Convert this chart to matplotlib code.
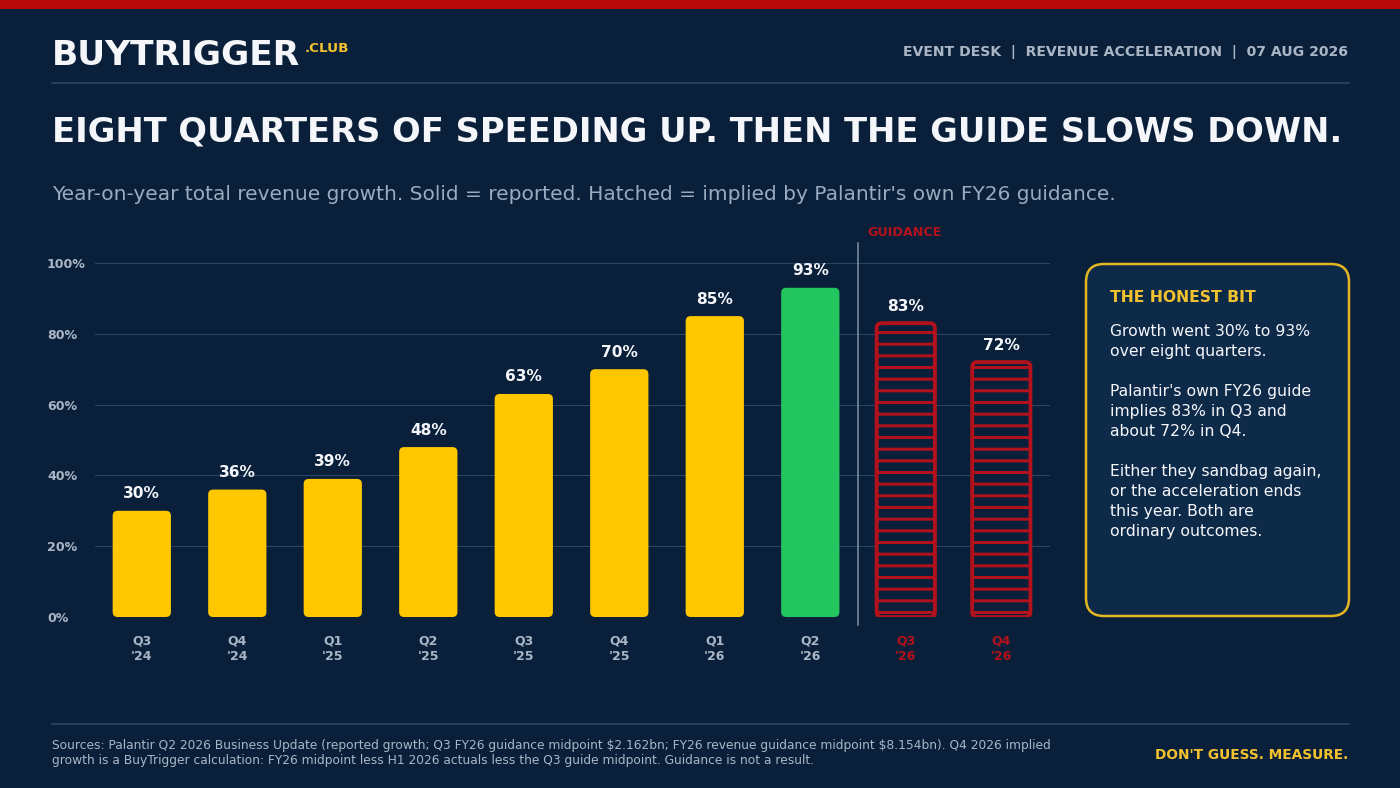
"""
Palantir revenue growth: eight reported quarters plus two quarters
implied by FY26 guidance. Saves out.png (1400x788).
"""

import matplotlib
matplotlib.use("Agg")
import matplotlib.pyplot as plt
from matplotlib.patches import FancyBboxPatch, Rectangle

DPI = 140
W, H = 1400, 788


def pt(px):
    """Convert a size in output pixels to points."""
    return px * 72 / DPI


# data
quarters = ["Q3\n'24", "Q4\n'24", "Q1\n'25", "Q2\n'25", "Q3\n'25",
            "Q4\n'25", "Q1\n'26", "Q2\n'26", "Q3\n'26", "Q4\n'26"]
growth = [30, 36, 39, 48, 63, 70, 85, 93, 83, 72]
n_reported = 8  # the last two are implied by guidance
y_ticks = [0, 20, 40, 60, 80, 100]
y_labels = [f"{v}%" for v in y_ticks]

header_right = "EVENT DESK  |  REVENUE ACCELERATION  |  07 AUG 2026"
title = "EIGHT QUARTERS OF SPEEDING UP. THEN THE GUIDE SLOWS DOWN."
subtitle = ("Year-on-year total revenue growth. Solid = reported. "
            "Hatched = implied by Palantir's own FY26 guidance.")
box_title = "THE HONEST BIT"
box_lines = [
    "Growth went 30% to 93%",
    "over eight quarters.",
    "",
    "Palantir's own FY26 guide",
    "implies 83% in Q3 and",
    "about 72% in Q4.",
    "",
    "Either they sandbag again,",
    "or the acceleration ends",
    "this year. Both are",
    "ordinary outcomes.",
]
footnote = ("Sources: Palantir Q2 2026 Business Update (reported growth; Q3 FY26 "
            "guidance midpoint $2.162bn; FY26 revenue guidance midpoint $8.154bn). "
            "Q4 2026 implied\ngrowth is a BuyTrigger calculation: FY26 midpoint "
            "less H1 2026 actuals less the Q3 guide midpoint. Guidance is not a result.")
slogan = "DON'T GUESS. MEASURE."

# colours
BG = "#0a203a"
TOP_RED = "#b80a0a"
YELLOW = "#ffc700"
GREEN = "#22c55e"
RED = "#b3121c"
GRID = "#2b4663"
RULE = "#2f4b69"
TICK = "#aab6c6"
SUB = "#9aabbf"
WHITE = "#f4f6fa"
GOLD = "#f2c12e"
BOX_FILL = "#0e2a49"
BOX_EDGE = "#e5b622"

plt.rcParams["font.family"] = ["DejaVu Sans"]
plt.rcParams["hatch.linewidth"] = pt(3)
plt.rcParams["hatch.color"] = RED

fig = plt.figure(figsize=(W / DPI, H / DPI), dpi=DPI, facecolor=BG)

# full-figure layer in pixel coordinates for header, box and footer
bg = fig.add_axes([0, 0, 1, 1], zorder=0)
bg.set_xlim(0, W)
bg.set_ylim(H, 0)
bg.axis("off")

bg.add_patch(Rectangle((0, 0), W, 9, color=TOP_RED, lw=0))
bg.text(52, 65, "BUYTRIGGER", color=WHITE, fontsize=pt(34.5), fontweight="bold",
        va="baseline", ha="left")
bg.text(305, 52, ".CLUB", color=GOLD, fontsize=pt(13.5), fontweight="bold",
        va="baseline", ha="left")
bg.text(1348, 52, header_right, color=TICK, fontsize=pt(14), fontweight="bold",
        va="center", ha="right")
bg.plot([52, 1349], [83, 83], color=RULE, lw=pt(1.5))

bg.text(52, 132, title, color=WHITE, fontsize=pt(33.7), fontweight="bold",
        va="center", ha="left")
bg.text(52, 194, subtitle, color=SUB, fontsize=pt(20.1), va="center", ha="left")

# side box
bg.add_patch(FancyBboxPatch((1086, 264), 263, 352,
                            boxstyle="round,pad=0,rounding_size=18",
                            fc=BOX_FILL, ec=BOX_EDGE, lw=pt(2.5)))
bg.text(1110, 297, box_title, color=GOLD, fontsize=pt(15.7), fontweight="bold",
        va="center", ha="left")
for k, line in enumerate(box_lines):
    bg.text(1110, 331 + k * 20, line, color=WHITE, fontsize=pt(15.6),
            va="center", ha="left")

# footer
bg.plot([52, 1349], [724, 724], color=RULE, lw=pt(1.5))
bg.text(52, 753, footnote, color=TICK, fontsize=pt(12.3), va="center",
        ha="left", linespacing=1.2, parse_math=False)
bg.text(1348, 755, slogan, color=GOLD, fontsize=pt(13.8), fontweight="bold",
        va="center", ha="right")

# chart
left, right, top, bottom = 95, 1050, 263, 617
ax = fig.add_axes([left / W, (H - bottom) / H, (right - left) / W,
                   (bottom - top) / H], zorder=1)
ax.set_facecolor("none")
n = len(growth)
ax.set_xlim(-0.49, n - 0.49)
ax.set_ylim(0, 100)

px_x = (right - left) / n
px_y = (bottom - top) / 100
aspect = px_x / px_y
bar_w = 0.61
radius = 5 / px_x

for i, v in enumerate(growth):
    if i >= n_reported:
        patch = FancyBboxPatch((i - bar_w / 2, 0), bar_w, v,
                               boxstyle=f"round,pad=0,rounding_size={radius}",
                               mutation_aspect=aspect, fc=BG, ec=RED,
                               lw=pt(3.8), hatch="--", zorder=3)
    else:
        fc = GREEN if i == n_reported - 1 else YELLOW
        patch = FancyBboxPatch((i - bar_w / 2, 0), bar_w, v,
                               boxstyle=f"round,pad=0,rounding_size={radius}",
                               mutation_aspect=aspect, fc=fc, lw=0, zorder=3)
    ax.add_patch(patch)
    ax.annotate(f"{v}%", xy=(i, v), xytext=(0, pt(17)),
                textcoords="offset points", ha="center", va="center",
                color=WHITE, fontsize=pt(15.4), fontweight="bold")

# divider between reported and guided quarters
guide_x = n_reported - 0.5
ax.axvline(guide_x, ymin=-8 / (bottom - top), ymax=(bottom - 243) / (bottom - top),
           color="#8196ad", lw=pt(1.5), clip_on=False, zorder=2)
ax.annotate("GUIDANCE", xy=(guide_x, 1), xycoords=("data", "axes fraction"),
            xytext=(pt(9), pt(31)), textcoords="offset points",
            ha="left", va="center", color=RED, fontsize=pt(12.8),
            fontweight="bold")

ax.set_yticks(y_ticks, y_labels)
ax.set_xticks(range(n), quarters)
ax.grid(axis="y", color=GRID, lw=pt(1))
ax.grid(axis="x", visible=False)
ax.set_axisbelow(True)
for s in ax.spines.values():
    s.set_visible(False)

ax.tick_params(axis="y", length=0, pad=pt(48), labelsize=pt(12.6),
               labelcolor=TICK)
for lbl in ax.get_yticklabels():
    lbl.set_ha("left")
    lbl.set_fontweight("bold")
ax.tick_params(axis="x", length=0, pad=pt(17), labelsize=pt(12.5))
for i, lbl in enumerate(ax.get_xticklabels()):
    lbl.set_fontweight("bold")
    lbl.set_linespacing(1.25)
    lbl.set_color(RED if i >= n_reported else TICK)

fig.savefig("out.png", dpi=DPI, facecolor=BG)
